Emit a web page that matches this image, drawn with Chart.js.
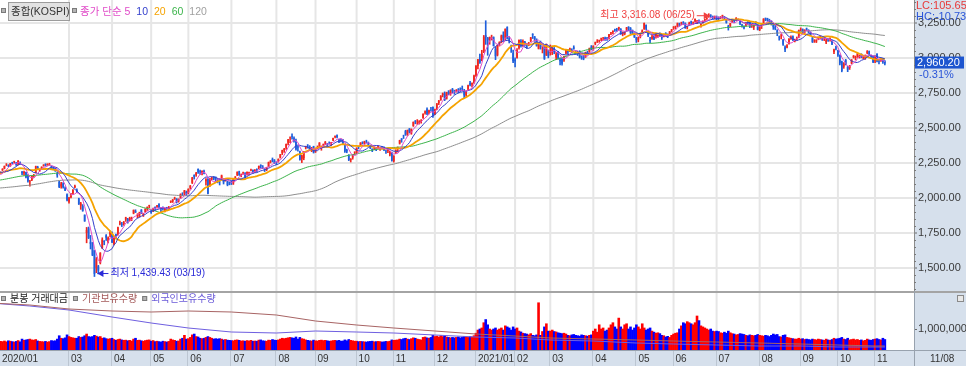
<!DOCTYPE html>
<html>
<head>
<meta charset="utf-8">
<script src="https://cdn.jsdelivr.net/npm/chart.js@4.4.0/dist/chart.umd.min.js"></script>
<style>
html, body { margin: 0; padding: 0; background: #fff; }
#wrap { position: relative; width: 966px; height: 366px; overflow: hidden; }
canvas { position: absolute; left: 0; }
</style>
</head>
<body>
<div id="wrap">
  <canvas id="priceChart" width="966" height="291" style="top:0"></canvas>
  <canvas id="volChart" width="966" height="75" style="top:291px"></canvas>
</div>
<script>
// ------------------------------------------
// 2019 하반기 종가 (이동평균 계산용)
// ------------------------------------------
const priorCloses = [
  2086,2091,2072,2067,2094,2093,2101,2074,2074,2066,2038,2029,2024,
  2017,1998,1946,1917,1909,1920,1937,1943,1925,1938,1927,1939,1960,1964,1951,1948,1916,1924,1938,1933,1967,
  1969,1988,2004,2010,2019,2032,2049,2062,2070,2091,2101,2091,2086,2101,2074,2068,2050,2049,2063,
  2031,2023,2021,2018,2031,2045,2044,2067,2068,2077,2089,2060,2085,2084,2080,2082,2094,2093,2092,2080,2083,
  2100,2131,2144,2142,2137,2140,2124,2123,2140,2162,2160,2152,2125,2096,2122,2102,2101,2121,2120,2104,2087,
  2091,2068,2069,2088,2081,2098,2096,2106,2137,2170,2196,2195,2195,2202,2204,2199,2201,2214,2208,2197
];

// ------------------------------------------
// 일봉 시가 / 고가 / 저가 / 종가 (2020/01/02 ~ 2021/11/08)
// ------------------------------------------
const opens = [
  2201,2192,2154,2166,2159,2180,2199,2211,2236,2231,2228,2254,2256,2252,2238,2256,2185,2176,2184,2155,
  2116,2128,2163,2180,2221,2199,2211,2230,2242,2236,2240,2224,2215,2214,2176,2116,2083,2103,2070,2025,
  1974,2005,2032,2077,2059,1997,1945,1943,1880,1750,1784,1687,1674,1626,1498,1512,1536,1645,1694,1733,1685,1740,
  1753,1670,1741,1741,1817,1812,1814,1847,1851,1845,1851,1890,1907,1878,1869,1916,1877,1900,1927,1943,
  1906,1907,1936,1937,1957,1929,1925,1911,1930,1922,1973,1975,1992,1995,1976,2001,2033,2036,2043,
  2035,2073,2108,2164,2164,2207,2193,2181,2193,2120,2135,2090,2139,2150,2146,2131,2134,2138,2136,2125,2119,2109,
  2118,2105,2146,2163,2190,2157,2178,2178,2167,2177,2198,2200,2191,2205,2214,2236,2224,2202,2201,2225,2258,2277,2268,
  2254,2261,2288,2321,2341,2358,2395,2431,2442,2426,2400,2368,2333,2280,2285,2360,2373,2370,2348,2369,
  2333,2361,2367,2357,2376,2388,2379,2397,2385,2411,2438,2448,2418,2414,2415,2376,2342,2303,2271,2288,2325,
  2322,2369,2377,2395,2390,2405,2395,2375,2350,2355,2361,2358,2350,2366,2363,2332,2335,2311,2324,
  2263,2320,2351,2389,2424,2448,2478,2454,2494,2461,2514,2548,2544,2537,2541,2572,2609,2633,2611,2634,2650,
  2599,2637,2679,2700,2736,2747,2709,2758,2745,2778,2759,2764,2775,2774,2786,2768,2733,2774,2822,2810,2821,
  2874,2943,2993,2981,3041,3162,3145,3128,3148,3149,3066,3020,3101,3127,3164,3145,3220,3142,3080,3035,
  2990,3002,3072,3120,3099,3115,3090,3097,3121,3170,3153,3130,3066,3111,3068,3084,3020,3056,
  3036,3039,3067,3005,3037,2990,2994,2983,3032,3054,3059,3057,3076,3040,3039,3041,2997,3013,3005,3042,3044,3081,
  3067,3102,3119,3124,3134,3142,3145,3141,3140,3177,3186,3205,3203,3206,3208,3170,3169,3203,3222,3213,3193,3176,
  3145,3129,3155,3185,3206,3235,3179,3128,3138,3159,3146,3156,3175,3164,3154,3176,3170,3169,3196,
  3217,3218,3229,3246,3251,3255,3250,3218,3238,3260,3253,3262,3254,3270,3230,3256,3270,3280,3296,3305,3298,3289,
  3293,3283,3288,3300,3288,3275,3228,3230,3256,3276,3271,3273,3262,3237,3225,3232,3257,3253,3231,3220,3257,3238,
  3201,3227,3252,3282,3283,3272,3264,3238,3222,3197,3145,3156,3130,3076,3074,3101,3140,3153,3122,3139,3149,
  3203,3205,3183,3210,3200,3183,3145,3123,3117,3138,3147,3142,3136,3112,3131,3132,3122,3043,3075,
  3053,3021,2975,2938,2985,2936,2928,2962,3006,3000,3010,3003,3024,2998,2999,3035,3048,3016,3012,
  2977,3028,2982,2978,2989,2974
];
const highs = [
  2202,2203,2165,2181,2162,2187,2210,2229,2246,2238,2248,2256,2263,2254,2267,2259,2191,2193,2185,2167,
  2126,2158,2169,2228,2227,2207,2223,2238,2245,2245,2248,2229,2221,2218,2185,2120,2112,2111,2079,2030,
  2004,2034,2060,2092,2066,1999,1969,1953,1880,1790,1793,1733,1683,1626,1575,1519,1610,1716,1696,1739,1722,1766,
  1758,1729,1742,1792,1836,1826,1833,1863,1855,1863,1864,1915,1916,1888,1899,1918,1890,1923,1937,1949,
  1912,1929,1937,1947,1960,1931,1937,1926,1934,1940,1980,1990,2006,1996,1994,2030,2038,2055,2050,
  2066,2090,2148,2166,2183,2209,2200,2195,2200,2138,2139,2140,2150,2154,2151,2140,2138,2164,2138,2140,2120,2115,
  2120,2136,2153,2187,2192,2172,2186,2181,2187,2185,2207,2201,2203,2209,2229,2238,2232,2210,2220,2257,2268,2286,2275,
  2259,2280,2312,2342,2355,2386,2419,2437,2459,2437,2420,2372,2336,2306,2332,2370,2382,2374,2362,2370,
  2351,2372,2396,2372,2386,2404,2390,2401,2398,2428,2444,2452,2419,2420,2419,2378,2349,2310,2282,2310,2331,
  2359,2371,2396,2402,2406,2413,2400,2378,2352,2365,2362,2372,2361,2369,2365,2342,2349,2334,2327,
  2303,2345,2365,2413,2425,2449,2484,2486,2497,2494,2544,2554,2560,2553,2560,2602,2622,2644,2628,2648,2652,
  2635,2675,2697,2731,2750,2758,2756,2767,2773,2783,2770,2775,2782,2787,2800,2776,2765,2806,2834,2822,2878,
  2946,2990,3028,3055,3161,3266,3147,3150,3163,3151,3080,3093,3116,3164,3187,3208,3223,3153,3092,3056,
  3001,3067,3129,3131,3130,3119,3105,3112,3147,3174,3154,3137,3109,3121,3081,3090,3099,3057,
  3093,3085,3075,3041,3047,3001,3000,3014,3058,3062,3071,3066,3087,3052,3048,3052,3016,3019,3042,3049,3071,3089,
  3087,3114,3131,3128,3142,3147,3149,3148,3169,3183,3194,3207,3212,3220,3210,3186,3188,3219,3224,3218,3200,3180,
  3147,3150,3178,3201,3250,3237,3190,3148,3163,3160,3174,3165,3180,3166,3170,3181,3172,3190,3204,
  3225,3228,3250,3249,3256,3260,3251,3227,3256,3263,3258,3279,3269,3273,3244,3265,3277,3290,3316.08,3310,3300,3300,
  3300,3294,3296,3306,3296,3277,3234,3248,3272,3276,3288,3280,3264,3241,3230,3252,3260,3255,3240,3237,3260,3239,
  3225,3240,3281,3286,3284,3277,3266,3240,3236,3202,3157,3168,3133,3086,3095,3138,3158,3158,3135,3150,3200,
  3215,3208,3202,3214,3202,3187,3149,3131,3131,3150,3158,3145,3143,3137,3137,3143,3124,3063,3085,
  3054,3023,2978,2967,2990,2941,2947,2989,3018,3014,3033,3020,3030,3014,3022,3053,3050,3021,3013,
  3016,3031,2990,2995,2992,2982
];
const lows = [
  2171,2165,2149,2164,2137,2173,2196,2208,2230,2224,2226,2244,2250,2232,2236,2243,2166,2164,2144,2113,
  2084,2124,2148,2178,2206,2190,2207,2227,2228,2233,2234,2203,2201,2190,2148,2074,2070,2071,2052,1980,
  1963,2001,2027,2072,2038,1954,1919,1905,1833,1680,1710,1636,1588,1439.43,1467,1458,1529,1639,1666,1697,1679,1723,
  1681,1665,1708,1735,1808,1796,1805,1833,1820,1836,1838,1887,1896,1859,1864,1889,1868,1898,1911,1930,
  1890,1903,1915,1932,1931,1903,1913,1900,1918,1916,1967,1968,1990,1964,1970,1997,2017,2022,2018,
  2029,2064,2103,2135,2155,2175,2168,2165,2172,2092,2030,2082,2130,2130,2120,2108,2093,2137,2100,2120,2087,2094,
  2096,2097,2138,2160,2161,2151,2170,2145,2163,2166,2194,2178,2183,2186,2209,2213,2210,2189,2195,2222,2250,2258,2246,
  2238,2256,2285,2310,2326,2347,2380,2396,2421,2399,2341,2335,2270,2253,2273,2350,2356,2340,2331,2321,
  2325,2352,2365,2341,2361,2381,2365,2385,2375,2409,2430,2430,2395,2400,2381,2326,2323,2267,2257,2277,2311,
  2318,2351,2371,2385,2384,2393,2372,2352,2331,2345,2338,2350,2339,2350,2338,2318,2324,2301,2263,
  2256,2317,2328,2385,2398,2425,2447,2447,2465,2455,2511,2530,2526,2528,2535,2568,2599,2596,2600,2620,2575,
  2596,2630,2667,2697,2722,2695,2706,2738,2733,2752,2741,2756,2750,2760,2766,2716,2726,2769,2800,2794,2818,
  2869,2921,2961,2980,3038,3097,3019,3098,3128,3085,2988,3014,3085,3108,3120,3128,3135,3107,3039,2966,
  2937,2999,3063,3077,3083,3084,3068,3087,3116,3139,3119,3084,3064,3063,3036,2989,3017,3001,
  3020,3024,3030,2988,2992,2950,2949,2976,3027,3028,3045,3036,3062,3026,3018,3000,2990,2987,3004,3021,3040,3057,
  3055,3094,3110,3112,3124,3127,3126,3125,3135,3166,3172,3190,3190,3199,3168,3158,3165,3193,3196,3174,3172,3146,
  3111,3115,3143,3178,3204,3200,3152,3109,3132,3130,3141,3146,3152,3132,3150,3160,3145,3165,3186,
  3204,3208,3224,3227,3236,3240,3211,3207,3236,3242,3244,3256,3245,3254,3220,3248,3261,3275,3290,3290,3278,3280,
  3272,3271,3281,3283,3273,3248,3199,3224,3253,3252,3268,3268,3238,3220,3208,3228,3240,3216,3218,3203,3236,3200,
  3195,3210,3250,3266,3262,3249,3235,3204,3201,3159,3127,3136,3090,3045,3071,3098,3133,3123,3114,3128,3144,
  3193,3172,3175,3196,3179,3160,3110,3111,3110,3130,3139,3125,3124,3103,3118,3120,3095,3030,3058,
  3012,2951,2901,2926,2950,2902,2918,2958,2999,2986,3004,2999,3001,2993,2990,3030,3020,2999,2966,
  2967,2971,2957,2975,2961,2950
];
const closes = [
  2175,2176,2155,2175,2151,2186,2206,2229,2238,2230,2248,2250,2262,2239,2267,2246,2176,2185,2148,2119,
  2118,2157,2165,2227,2211,2201,2223,2238,2232,2243,2242,2208,2210,2195,2162,2079,2103,2077,2054,1987,
  2002,2014,2059,2085,2040,1954,1962,1908,1834,1771,1714,1672,1591,1458,1566,1482,1609,1704,1686,1717,1717,1755,
  1685,1725,1725,1792,1824,1807,1826,1861,1826,1857,1857,1915,1898,1879,1896,1890,1889,1923,1934,1948,
  1895,1928,1929,1946,1935,1922,1921,1925,1927,1937,1980,1989,1998,1970,1994,2029,2031,2054,2030,
  2065,2087,2147,2151,2181,2184,2188,2195,2176,2132,2030,2138,2141,2139,2141,2126,2131,2161,2112,2134,2093,2108,
  2106,2136,2153,2187,2165,2165,2183,2150,2186,2183,2201,2183,2201,2198,2228,2228,2216,2200,2217,2256,2263,2267,2249,
  2251,2279,2311,2342,2351,2386,2418,2432,2437,2407,2348,2360,2274,2304,2329,2369,2370,2344,2353,2326,
  2349,2363,2395,2368,2384,2401,2376,2396,2396,2428,2443,2436,2406,2412,2389,2333,2333,2272,2278,2308,2327,
  2358,2365,2395,2391,2403,2403,2380,2361,2341,2358,2346,2370,2355,2360,2343,2330,2345,2326,2267,
  2300,2343,2357,2413,2416,2447,2452,2485,2475,2493,2543,2544,2545,2547,2553,2602,2617,2601,2625,2633,2591,
  2634,2675,2696,2731,2745,2700,2755,2746,2770,2762,2756,2771,2770,2772,2778,2733,2759,2806,2808,2820,2873,
  2944,2990,2968,3031,3152,3148,3126,3149,3150,3085,3013,3092,3114,3160,3140,3208,3140,3122,3069,2976,
  2976,3056,3129,3087,3120,3092,3084,3100,3147,3163,3133,3086,3107,3079,3070,2994,3099,3013,
  3043,3082,3043,3026,2996,2976,2958,3013,3054,3045,3067,3047,3066,3039,3035,3004,2996,2995,3041,3036,3070,3061,
  3087,3112,3120,3127,3137,3143,3131,3135,3169,3182,3194,3198,3198,3220,3171,3177,3186,3217,3215,3181,3174,3147,
  3127,3147,3178,3197,3249,3209,3161,3122,3153,3134,3173,3162,3156,3144,3168,3165,3165,3188,3203,
  3221,3224,3247,3241,3252,3247,3216,3224,3249,3252,3255,3278,3264,3267,3240,3263,3276,3286,3302,3301,3286,3297,
  3282,3281,3293,3305,3285,3252,3217,3246,3271,3264,3286,3276,3244,3232,3215,3250,3254,3224,3232,3236,3242,3202,
  3223,3237,3280,3276,3270,3260,3243,3220,3208,3171,3143,3158,3097,3060,3090,3138,3148,3128,3133,3144,3199,
  3207,3175,3201,3203,3187,3162,3114,3125,3127,3148,3153,3130,3140,3127,3125,3133,3097,3060,3068,
  3019,2962,2908,2959,2956,2916,2944,2988,3015,3006,3029,3013,3007,3006,3020,3049,3025,3009,2970,
  3013,2977,2975,2983,2969.27,2960.20
];

// 분봉 거래대금
const volumes = [
  420000,380000,400000,450000,470000,410000,400000,430000,390000,440000,420000,400000,380000,410000,450000,390000,520000,460000,480000,500000,
  520000,480000,470000,500000,430000,410000,400000,390000,410000,380000,400000,450000,430000,440000,520000,680000,560000,540000,580000,720000,
  640000,600000,580000,560000,560000,640000,600000,620000,680000,760000,640000,620000,640000,700000,660000,620000,640000,560000,580000,540000,520000,540000,
  560000,500000,460000,500000,520000,480000,460000,470000,440000,460000,430000,520000,560000,460000,470000,440000,420000,450000,470000,480000,
  420000,450000,400000,420000,400000,380000,420000,400000,380000,410000,520000,480000,460000,420000,430000,520000,560000,700000,520000,
  540000,600000,720000,760000,640000,620000,560000,540000,560000,600000,640000,600000,560000,520000,540000,520000,540000,520000,480000,500000,470000,460000,
  450000,440000,470000,480000,460000,430000,440000,420000,450000,430000,460000,420000,430000,420000,470000,480000,440000,430000,420000,470000,460000,500000,470000,
  460000,480000,520000,560000,540000,560000,580000,600000,580000,560000,620000,520000,600000,540000,520000,480000,460000,440000,430000,470000,
  440000,430000,460000,470000,450000,460000,440000,420000,430000,450000,460000,440000,460000,420000,430000,480000,440000,500000,460000,440000,420000,
  420000,400000,410000,400000,390000,380000,400000,410000,420000,390000,400000,410000,400000,380000,390000,410000,400000,420000,480000,
  460000,470000,480000,520000,500000,540000,560000,520000,500000,540000,580000,560000,520000,500000,480000,600000,620000,580000,560000,600000,700000,
  640000,660000,620000,680000,640000,660000,620000,600000,580000,600000,580000,600000,620000,580000,600000,640000,620000,600000,640000,620000,680000,
  800000,950000,1000000,1050000,1300000,1450000,1200000,1000000,950000,1000000,1050000,950000,1000000,1050000,950000,1150000,1100000,1050000,950000,1100000,
  1000000,1050000,900000,860000,800000,780000,760000,720000,780000,700000,680000,720000,2250000,700000,880000,1100000,1250000,900000,
  900000,950000,880000,860000,820000,800000,780000,800000,760000,700000,680000,720000,740000,700000,680000,660000,720000,700000,680000,660000,700000,720000,
  900000,1000000,850000,1200000,1000000,1050000,900000,950000,1050000,1200000,1300000,1100000,1000000,1520000,1100000,1000000,1200000,1250000,1000000,1100000,950000,1050000,
  1200000,1100000,1000000,1250000,1050000,950000,1000000,1050000,900000,850000,800000,820000,780000,700000,680000,620000,650000,600000,700000,
  760000,800000,820000,1000000,1150000,1300000,1250000,1350000,1300000,1250000,1200000,1300000,1620000,1400000,1150000,1100000,1050000,1000000,950000,1000000,900000,880000,
  900000,880000,820000,800000,850000,800000,900000,820000,780000,760000,720000,740000,780000,760000,740000,700000,680000,720000,700000,680000,700000,740000,
  700000,680000,660000,700000,680000,640000,700000,760000,720000,740000,640000,620000,700000,720000,600000,580000,560000,540000,520000,520000,560000,
  520000,540000,500000,520000,500000,480000,520000,500000,480000,520000,500000,480000,460000,520000,480000,460000,500000,560000,520000,
  540000,560000,600000,520000,500000,560000,480000,500000,520000,480000,500000,460000,480000,440000,460000,520000,480000,460000,500000,
  520000,540000,500000,480000,560000,500000
];

// 기관 / 외국인 보유수량 (월초 기준)
const holdIdx     = [0, 20, 40, 62, 82, 101, 123, 146, 166, 187, 206, 227, 248, 268, 286, 308, 330, 349, 371, 393, 414, 433, 452, 457];
const instHold    = [470, 450, 410, 390, 380, 390, 380, 350, 290, 250, 220, 190, 160, 140, 120, 110, 100, 90, 80, 70, 60, 50, 40, 40];
const foreignHold = [470, 440, 400, 330, 270, 220, 180, 170, 190, 180, 170, 150, 130, 120, 100, 90, 70, 60, 50, 40, 40, 30, 30, 30];

// 축 눈금 / 월 라벨
const priceTicks  = [1500, 1750, 2000, 2250, 2500, 2750, 3000, 3250];
const monthStarts = [0, 40, 62, 82, 101, 123, 146, 166, 187, 206, 227, 248, 268, 286, 308, 330, 349, 371, 393, 414, 433, 452];
const monthLabels = ['2020/01','03','04','05','06','07','08','09','10','11','12','2021/01','02','03','04','05','06','07','08','09','10','11'];
const lastDateLabel = '11/08';
const maPeriods = [5, 10, 20, 60, 120];
const maColors  = ['#e04cc8', '#3440cc', '#f5a300', '#3cb44b', '#8e8e8e'];
const highNote = '최고 3,316.08 (06/25)';
const lowNote  = '최저 1,439.43 (03/19)';
const lcText = 'LC:105.65';
const hcText = 'HC:-10.73';

// ------------------------------------------
// 스타일
// ------------------------------------------
const NUM_FONT = '"Liberation Sans", Arial, sans-serif';
const KR_FONT  = '"Liberation Sans", "Noto Sans CJK KR", sans-serif';
const AXIS_BG  = '#d6e0ec';
const GRID     = '#e6e6e6';
const UP = '#f0261f', DOWN = '#1f5fdc';
const X_MIN = 4.73, X_MAX = 471.9;

Chart.defaults.font.family = NUM_FONT;

const fmt2 = v => Number(v).toLocaleString('en-US', { minimumFractionDigits: 2, maximumFractionDigits: 2 });

function movingAverage(n) {
    const all = priorCloses.concat(closes);
    return closes.map((_, i) => {
        const end = i + priorCloses.length;
        if (end - n + 1 < 0) return { x: i, y: null };
        let s = 0;
        for (let k = end - n + 1; k <= end; k++) s += all[k];
        return { x: i, y: s / n };
    });
}

function drawMonthGrid(chart, y0, y1) {
    const { ctx } = chart;
    const xs = chart.scales.x;
    const a = chart.chartArea;
    ctx.save();
    ctx.strokeStyle = GRID;
    ctx.lineWidth = 2;
    monthStarts.forEach(idx => {
        const px = xs.getPixelForValue(idx);
        if (px < a.left + 2 || px > a.right) return;
        ctx.beginPath();
        ctx.moveTo(px, y0);
        ctx.lineTo(px, y1);
        ctx.stroke();
    });
    ctx.restore();
}

function arrow(ctx, fromX, tipX, y, color) {
    ctx.strokeStyle = color;
    ctx.fillStyle = color;
    ctx.lineWidth = 1;
    ctx.beginPath();
    ctx.moveTo(fromX, y);
    ctx.lineTo(tipX, y);
    ctx.stroke();
    const d = tipX > fromX ? -1 : 1;
    ctx.beginPath();
    ctx.moveTo(tipX, y);
    ctx.lineTo(tipX + d * 6, y - 3.5);
    ctx.lineTo(tipX + d * 6, y + 3.5);
    ctx.closePath();
    ctx.fill();
}

function marker(ctx, x, y) {
    ctx.fillStyle = '#b4b4b4';
    ctx.fillRect(x, y, 5, 5);
    ctx.strokeStyle = '#7a7a7a';
    ctx.lineWidth = 1;
    ctx.strokeRect(x + 0.5, y + 0.5, 4, 4);
}

// -------------------------------------------------
//  가격 패널 장식
// -------------------------------------------------
const pricePanelPlugin = {
    id: 'pricePanel',
    beforeDraw(chart) {
        const { ctx, width, height } = chart;
        const a = chart.chartArea;
        ctx.save();
        ctx.fillStyle = '#fff';
        ctx.fillRect(0, 0, width, height);
        ctx.fillStyle = AXIS_BG;
        ctx.fillRect(a.right, 0, width - a.right, height);
        ctx.restore();
    },
    beforeDatasetsDraw(chart) {
        const a = chart.chartArea;
        drawMonthGrid(chart, a.top, a.bottom);
    },
    afterDraw(chart) {
        const { ctx } = chart;
        const xs = chart.scales.x, ys = chart.scales.y;
        const a = chart.chartArea;
        ctx.save();

        // 보조 눈금
        ctx.strokeStyle = '#7a7a7a';
        ctx.lineWidth = 1;
        for (let v = 1350; v <= 3400; v += 50) {
            if (v % 250 === 0) continue;
            const y = Math.round(ys.getPixelForValue(v)) + 0.5;
            ctx.beginPath();
            ctx.moveTo(a.right, y);
            ctx.lineTo(a.right + 2, y);
            ctx.stroke();
        }

        // 최고 / 최저 표시
        const hiIdx = highs.indexOf(Math.max(...highs));
        const loIdx = lows.indexOf(Math.min(...lows));
        ctx.font = '10px ' + KR_FONT;
        ctx.textBaseline = 'middle';

        const hx = xs.getPixelForValue(hiIdx);
        const hy = ys.getPixelForValue(highs[hiIdx]) + 2;
        arrow(ctx, hx - 12, hx + 1, hy, '#f04040');
        ctx.fillStyle = '#f04040';
        ctx.textAlign = 'right';
        ctx.fillText(highNote, hx - 14, hy);

        const lx = xs.getPixelForValue(loIdx);
        const ly = ys.getPixelForValue(lows[loIdx]) - 3;
        arrow(ctx, lx + 14, lx + 3, ly, '#2a2ad8');
        ctx.fillStyle = '#2a2ad8';
        ctx.textAlign = 'left';
        ctx.fillText(lowNote, lx + 16, ly);

        // 범례
        marker(ctx, 1, 8);
        ctx.fillStyle = '#e2e2e2';
        ctx.fillRect(8, 2, 62, 19);
        ctx.strokeStyle = '#9c9c9c';
        ctx.strokeRect(8.5, 2.5, 61, 18);
        ctx.fillStyle = '#333';
        ctx.font = '10.5px ' + KR_FONT;
        ctx.textAlign = 'left';
        ctx.fillText('종합(KOSPI)', 11, 12);
        marker(ctx, 72, 8);
        const parts = [['종가 단순 5', maColors[0]], ['10', maColors[1]], ['20', maColors[2]], ['60', maColors[3]], ['120', '#a0a0a0']];
        let tx = 80;
        parts.forEach(([t, c]) => {
            ctx.fillStyle = c;
            ctx.fillText(t, tx, 12);
            tx += ctx.measureText(t).width + 6;
        });

        // LC / HC
        ctx.font = '11px ' + NUM_FONT;
        ctx.fillStyle = '#e83a3a';
        ctx.fillText(lcText, a.right + 2, 6);
        ctx.fillStyle = '#2a55d8';
        ctx.fillText(hcText, a.right + 2, 17);

        // 현재가 박스
        const last = closes[closes.length - 1];
        const prev = closes[closes.length - 2];
        const cy = ys.getPixelForValue(last) - 1;
        ctx.fillStyle = '#1d55cf';
        ctx.fillRect(a.right + 1, cy - 6, 49, 12);
        ctx.fillStyle = '#fff';
        ctx.fillText(fmt2(last), a.right + 3, cy);
        ctx.fillStyle = '#2a55d8';
        ctx.fillText(((last / prev - 1) * 100).toFixed(2) + '%', a.right + 5, cy + 12);

        ctx.restore();
    }
};

// -------------------------------------------------
//  거래대금 패널 장식
// -------------------------------------------------
const volPanelPlugin = {
    id: 'volPanel',
    beforeDraw(chart) {
        const { ctx, width, height } = chart;
        const a = chart.chartArea;
        ctx.save();
        ctx.fillStyle = '#fff';
        ctx.fillRect(0, 0, width, height);
        ctx.fillStyle = AXIS_BG;
        ctx.fillRect(a.right, 0, width - a.right, height);
        ctx.fillRect(0, a.bottom, width, height - a.bottom);
        ctx.restore();
    },
    beforeDatasetsDraw(chart) {
        const a = chart.chartArea;
        drawMonthGrid(chart, a.top, a.bottom);
    },
    afterDraw(chart) {
        const { ctx, width, height } = chart;
        const xs = chart.scales.x;
        const a = chart.chartArea;
        ctx.save();

        // 패널 구분선
        ctx.fillStyle = '#a4a4a4';
        ctx.fillRect(0, 0, width, 2);
        ctx.fillStyle = '#98a2ae';
        ctx.fillRect(0, a.bottom, width, 1);
        ctx.fillRect(a.right, 0, 1, height);

        // 월 라벨
        ctx.font = '10px ' + NUM_FONT;
        ctx.textBaseline = 'middle';
        ctx.textAlign = 'left';
        monthStarts.forEach((idx, k) => {
            const px = xs.getPixelForValue(idx);
            if (px > a.left + 2) {
                ctx.fillStyle = '#bcc6d2';
                ctx.fillRect(Math.round(px) - 1, a.bottom + 1, 1, height - a.bottom);
            }
            ctx.fillStyle = '#333';
            ctx.fillText(monthLabels[k], Math.max(2, px + 2), a.bottom + 9);
        });
        ctx.fillText(lastDateLabel, a.right + 16, a.bottom + 9);

        // 범례
        ctx.font = '10px ' + KR_FONT;
        const parts = [['분봉 거래대금', '#222'], ['기관보유수량', '#a45a5a'], ['외국인보유수량', '#6a5ad8']];
        let tx = 1;
        parts.forEach(([t, c]) => {
            marker(ctx, tx, 5);
            ctx.fillStyle = c;
            ctx.fillText(t, tx + 9, 8);
            tx += 9 + ctx.measureText(t).width + 5;
        });

        // 작은 아이콘
        ctx.fillStyle = '#8a8a8a';
        ctx.fillRect(width - 9, 4, 7, 7);
        ctx.fillStyle = '#e8e8e8';
        ctx.fillRect(width - 8, 5, 5, 5);

        ctx.restore();
    }
};

const candleColors = closes.map((c, i) => (c >= opens[i] ? UP : DOWN));
const volColors = closes.map((c, i) => (c >= opens[i] ? '#ff0000' : '#0000ff'));

const rightAxisFit = s => { s.width = 52; s.paddingTop = 0; s.paddingBottom = 0; };

// -------------------------------------------------
//  가격 차트
// -------------------------------------------------
const maDatasets = maPeriods.map((n, k) => ({
    type: 'line',
    label: 'MA' + n,
    data: movingAverage(n),
    borderColor: maColors[k],
    borderWidth: n === 20 ? 1.8 : 1,
    pointRadius: 0,
    tension: 0,
    order: k
}));

new Chart(document.getElementById('priceChart'), {
    type: 'bar',
    data: {
        datasets: [
            ...maDatasets,
            {
                label: '몸통',
                data: closes.map((c, i) => ({ x: i, y: [opens[i], c] })),
                backgroundColor: candleColors,
                grouped: false,
                barPercentage: 0.85,
                categoryPercentage: 1,
                order: 10
            },
            {
                label: '꼬리',
                data: closes.map((c, i) => ({ x: i, y: [lows[i], highs[i]] })),
                backgroundColor: candleColors,
                grouped: false,
                barThickness: 1,
                order: 11
            }
        ]
    },
    options: {
        responsive: false,
        animation: false,
        events: [],
        layout: { padding: 0 },
        plugins: { legend: { display: false }, tooltip: { enabled: false } },
        scales: {
            x: { type: 'linear', min: X_MIN, max: X_MAX, offset: false, display: false },
            y: {
                position: 'right',
                min: 1336,
                max: 3414,
                afterBuildTicks: s => { s.ticks = priceTicks.map(v => ({ value: v })); },
                afterFit: rightAxisFit,
                ticks: { font: { size: 11 }, color: '#3a3a3a', padding: 1, callback: v => fmt2(v) },
                grid: { color: GRID, lineWidth: 2, tickColor: '#6a6a6a', tickWidth: 1, tickLength: 3 },
                border: { display: true, color: '#8c8c8c', width: 1 }
            }
        }
    },
    plugins: [pricePanelPlugin]
});

// -------------------------------------------------
//  거래대금 차트
// -------------------------------------------------
new Chart(document.getElementById('volChart'), {
    type: 'bar',
    data: {
        datasets: [
            {
                type: 'line',
                label: '기관보유수량',
                data: holdIdx.map((d, k) => ({ x: d, y: instHold[k] })),
                yAxisID: 'yHold',
                borderColor: '#a86464',
                borderWidth: 1,
                pointRadius: 0,
                tension: 0,
                order: 0
            },
            {
                type: 'line',
                label: '외국인보유수량',
                data: holdIdx.map((d, k) => ({ x: d, y: foreignHold[k] })),
                yAxisID: 'yHold',
                borderColor: '#6f5fe0',
                borderWidth: 1,
                pointRadius: 0,
                tension: 0,
                order: 1
            },
            {
                label: '거래대금',
                data: volumes.map((v, i) => ({ x: i, y: v })),
                backgroundColor: volColors,
                grouped: false,
                barPercentage: 1,
                categoryPercentage: 1,
                order: 5
            }
        ]
    },
    options: {
        responsive: false,
        animation: false,
        events: [],
        layout: { padding: { bottom: 16 } },
        plugins: { legend: { display: false }, tooltip: { enabled: false } },
        scales: {
            x: { type: 'linear', min: X_MIN, max: X_MAX, offset: false, display: false },
            y: {
                position: 'right',
                min: 0,
                max: 2810000,
                afterBuildTicks: s => { s.ticks = [{ value: 1000000 }]; },
                afterFit: rightAxisFit,
                ticks: { font: { size: 11 }, color: '#3a3a3a', padding: 1, callback: v => v.toLocaleString('en-US') },
                grid: { drawOnChartArea: false, tickColor: '#6a6a6a', tickLength: 3 },
                border: { display: true, color: '#8c8c8c', width: 1 }
            },
            yHold: { display: false, min: 0, max: 590 }
        }
    },
    plugins: [volPanelPlugin]
});
</script>
</body>
</html>
